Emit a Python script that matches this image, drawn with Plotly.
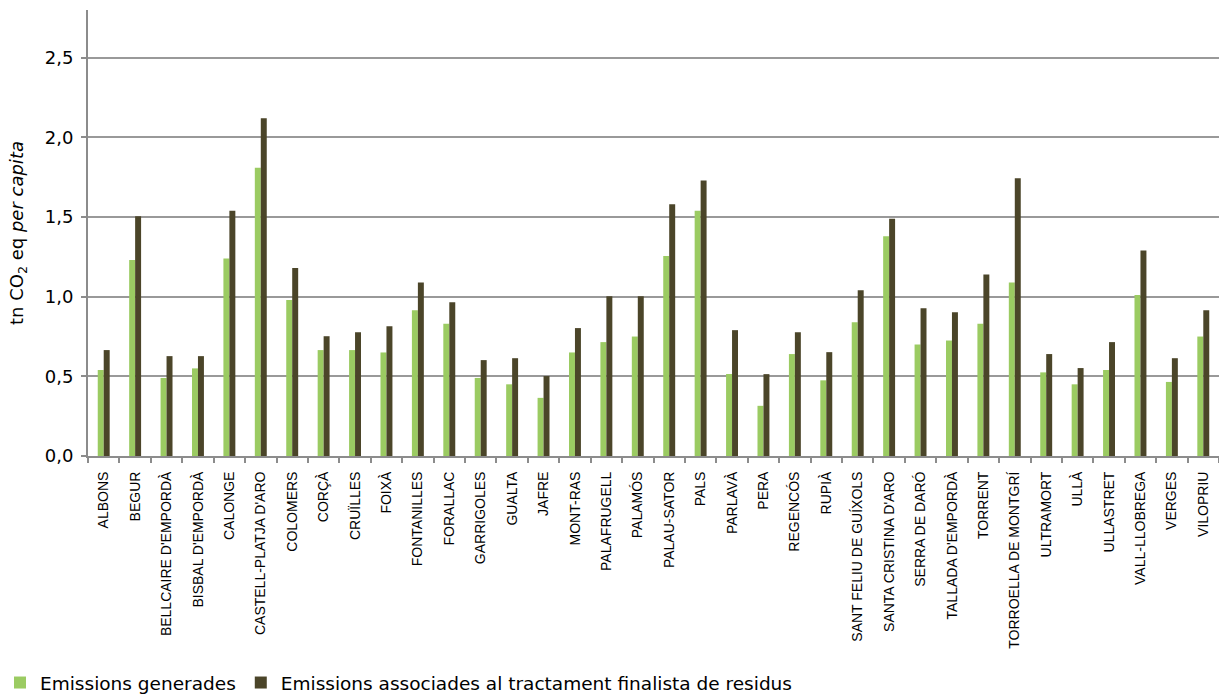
import plotly.graph_objects as go

municipis = ["ALBONS", "BEGUR", "BELLCAIRE D'EMPORDÀ", "BISBAL D'EMPORDÀ", "CALONGE",
             "CASTELL-PLATJA D'ARO", "COLOMERS", "CORÇÀ", "CRUÏLLES", "FOIXÀ",
             "FONTANILLES", "FORALLAC", "GARRIGOLES", "GUALTA", "JAFRE", "MONT-RAS",
             "PALAFRUGELL", "PALAMÓS", "PALAU-SATOR", "PALS", "PARLAVÀ", "PERA",
             "REGENCÓS", "RUPIÀ", "SANT FELIU DE GUÍXOLS", "SANTA CRISTINA D'ARO",
             "SERRA DE DARÓ", "TALLADA D'EMPORDÀ", "TORRENT", "TORROELLA DE MONTGRÍ",
             "ULTRAMORT", "ULLÀ", "ULLASTRET", "VALL-LLOBREGA", "VERGES", "VILOPRIU"]

emissions_generades = [0.54, 1.23, 0.49, 0.55, 1.24, 1.81, 0.98, 0.665, 0.665, 0.65,
                       0.915, 0.83, 0.49, 0.45, 0.365, 0.65, 0.715, 0.75, 1.255, 1.54,
                       0.515, 0.315, 0.64, 0.475, 0.84, 1.38, 0.70, 0.725, 0.83, 1.09,
                       0.525, 0.45, 0.54, 1.01, 0.465, 0.75]

emissions_tractament = [0.665, 1.505, 0.627, 0.627, 1.54, 2.12, 1.18, 0.752, 0.777, 0.815,
                        1.09, 0.965, 0.602, 0.614, 0.502, 0.803, 1.003, 1.003, 1.58, 1.73,
                        0.79, 0.514, 0.777, 0.652, 1.04, 1.49, 0.928, 0.903, 1.14, 1.743,
                        0.64, 0.552, 0.715, 1.29, 0.614, 0.915]

y_ticks = [0.0, 0.5, 1.0, 1.5, 2.0, 2.5]
y_tick_labels = ["0,0", "0,5", "1,0", "1,5", "2,0", "2,5"]

serie_1 = "Emissions generades"
serie_2 = "Emissions associades al tractament finalista de residus"

fig = go.Figure()
fig.add_trace(go.Bar(x=municipis, y=emissions_generades, name=serie_1,
                     marker=dict(color="#9BCB62", line=dict(width=0))))
fig.add_trace(go.Bar(x=municipis, y=emissions_tractament, name=serie_2,
                     marker=dict(color="#4B4529", line=dict(width=0))))

font_family = "DejaVu Sans, Liberation Sans, Arial, sans-serif"
label_family = "Liberation Sans, Arial, sans-serif"

fig.update_layout(
    width=1219, height=695,
    margin=dict(l=88, r=0, t=10, b=239, autoexpand=False),
    paper_bgcolor="white", plot_bgcolor="white",
    barmode="group", bargap=0.62, bargroupgap=0,
    font=dict(family=font_family, color="#000000"),
    showlegend=True,
    legend=dict(orientation="h", xref="container", x=-0.004, xanchor="left",
                yref="container", y=1 - 683 / 695, yanchor="middle",
                font=dict(size=18.5, family=font_family, color="#000000"),
                itemwidth=30, tracegroupgap=0, bgcolor="rgba(0,0,0,0)"),
)

fig.update_xaxes(
    type="category", tickangle=-90, tickfont=dict(size=14, family=label_family, color="#000000"),
    ticklabelstandoff=8,
    showline=True, linecolor="#8C8C8C", linewidth=2,
    ticks="outside", tickson="boundaries", ticklen=5, tickcolor="#8C8C8C", tickwidth=2,
    showgrid=False, range=[-0.5, len(municipis) - 0.5], automargin=False,
)

fig.update_yaxes(
    range=[0, 2.8], tickvals=y_ticks, ticktext=y_tick_labels,
    tickfont=dict(size=18, family=font_family, color="#000000"),
    ticklabelstandoff=4,
    showline=True, linecolor="#8C8C8C", linewidth=2,
    ticks="outside", ticklen=5, tickcolor="#8C8C8C", tickwidth=2,
    showgrid=True, gridcolor="#999999", gridwidth=2,
    zeroline=False, automargin=False,
    title=dict(text="tn CO<sub>2</sub> eq <i>per capita</i>",
               font=dict(size=18, family=font_family, color="#000000"), standoff=16),
)

fig.write_html("out.html", config={"displayModeBar": False},
               post_script="document.body.style.margin='0px';")
